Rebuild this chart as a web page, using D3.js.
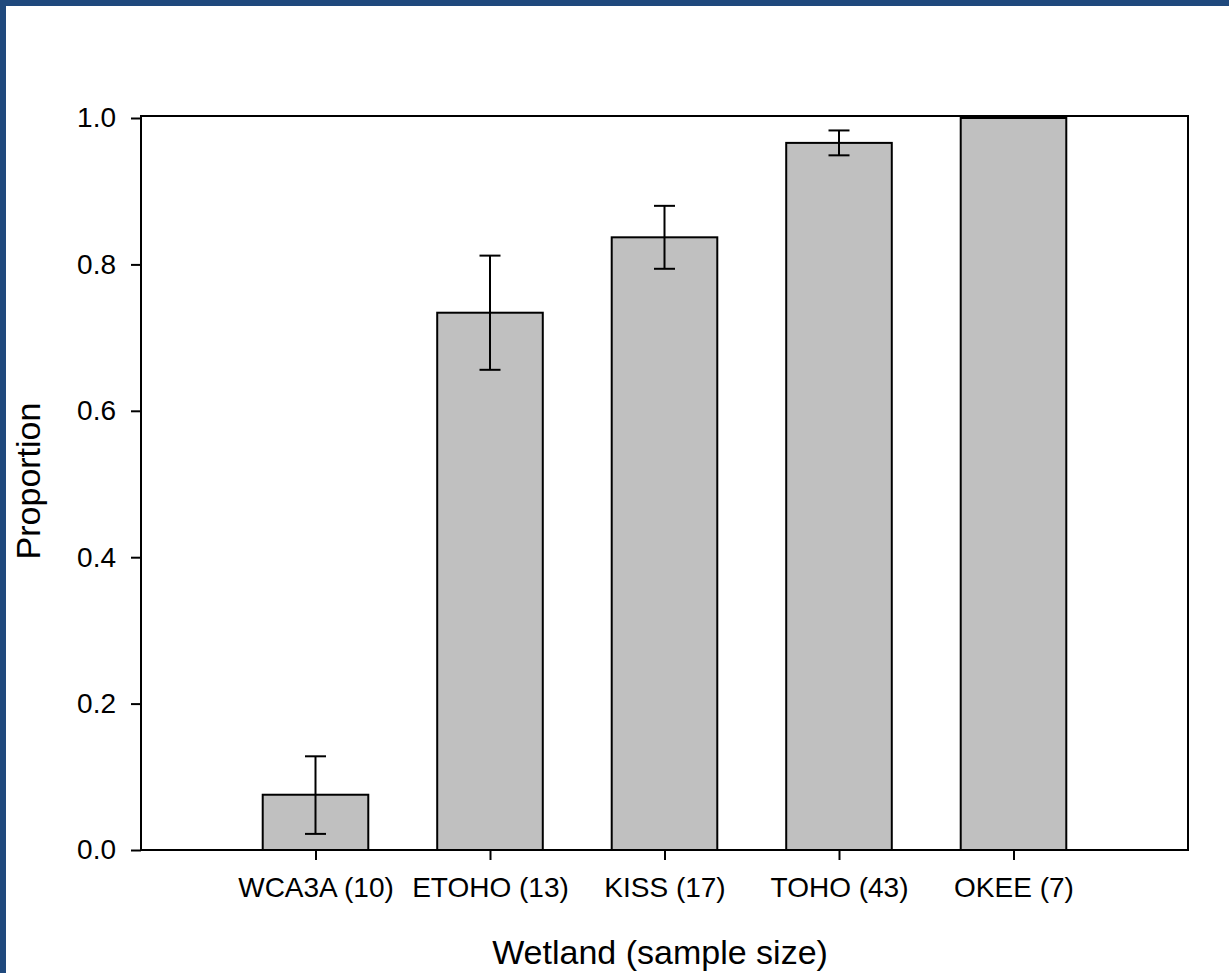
<!DOCTYPE html>
<html>
<head>
<meta charset="utf-8">
<script src="https://cdn.jsdelivr.net/npm/d3@7"></script>
<style>
  html, body { margin: 0; padding: 0; background: #fff; }
  svg { display: block; }
  text { font-family: Arial, "Liberation Sans", Helvetica, sans-serif; fill: #000; }
</style>
</head>
<body>
<svg id="chart" width="1229" height="973"></svg>
<script>
const categories = ["WCA3A (10)", "ETOHO (13)", "KISS (17)", "TOHO (43)", "OKEE (7)"];
const values     = [0.0755, 0.734, 0.837, 0.966, 1.0];
const errUpper   = [0.128, 0.812, 0.880, 0.983, 1.0];
const errLower   = [0.022, 0.656, 0.794, 0.949, 1.0];
const hasError   = [true, true, true, true, false];
const yTicks     = [0.0, 0.2, 0.4, 0.6, 0.8, 1.0];
const xTitle = "Wetland (sample size)";
const yTitle = "Proportion";

const W = 1229, H = 973;
const plot = { left: 141, right: 1188, top: 116, bottom: 850 };
const FONT = "Arial, 'Liberation Sans', Helvetica, sans-serif";

const svg = d3.select("#chart");

// blue frame (top & left edges)
svg.append("rect").attr("x", 0).attr("y", 0).attr("width", W).attr("height", 6).attr("fill", "#1F497D");
svg.append("rect").attr("x", 0).attr("y", 0).attr("width", 6).attr("height", H).attr("fill", "#1F497D");

const x = d3.scaleLinear().domain([0, categories.length + 1]).range([plot.left, plot.right]);
const y = d3.scaleLinear().domain([0, 1.0]).range([plot.bottom, 118]);
const step = x(1) - x(0);
const barW = step * 0.605;

// bars
svg.append("g").selectAll("rect").data(values).join("rect")
  .attr("x", (d, i) => x(i + 1) - barW / 2)
  .attr("y", d => y(d))
  .attr("width", barW)
  .attr("height", d => y(0) - y(d))
  .attr("fill", "#C0C0C0")
  .attr("stroke", "#000")
  .attr("stroke-width", 2);

// error bars
const eb = svg.append("g").attr("stroke", "#000").attr("stroke-width", 2);
const capW = 21;
values.forEach((v, i) => {
  if (!hasError[i]) return;
  const cx = x(i + 1);
  eb.append("line").attr("x1", cx).attr("x2", cx).attr("y1", y(errUpper[i])).attr("y2", y(errLower[i]));
  eb.append("line").attr("x1", cx - capW / 2).attr("x2", cx + capW / 2).attr("y1", y(errUpper[i])).attr("y2", y(errUpper[i]));
  eb.append("line").attr("x1", cx - capW / 2).attr("x2", cx + capW / 2).attr("y1", y(errLower[i])).attr("y2", y(errLower[i]));
});

// plot frame
svg.append("rect")
  .attr("x", plot.left).attr("y", plot.top)
  .attr("width", plot.right - plot.left).attr("height", plot.bottom - plot.top)
  .attr("fill", "none").attr("stroke", "#000").attr("stroke-width", 2);

// y axis
const yAxis = d3.axisLeft(y).tickValues(yTicks).tickFormat(d3.format(".1f")).tickSize(10).tickPadding(15);
const gy = svg.append("g").attr("transform", `translate(${plot.left},0)`).call(yAxis);
gy.select(".domain").remove();
gy.selectAll(".tick line").attr("stroke", "#000").attr("stroke-width", 2);
gy.selectAll(".tick text").attr("font-size", 28).attr("font-family", FONT).attr("fill", "#000");

// x axis
const xAxis = d3.axisBottom(x).tickValues(categories.map((c, i) => i + 1))
  .tickFormat((d) => categories[d - 1]).tickSize(10).tickPadding(17);
const gx = svg.append("g").attr("transform", `translate(0,${plot.bottom})`).call(xAxis);
gx.select(".domain").remove();
gx.selectAll(".tick line").attr("stroke", "#000").attr("stroke-width", 2);
gx.selectAll(".tick text").attr("font-size", 28).attr("font-family", FONT).attr("fill", "#000");

// titles
svg.append("text").attr("x", 660).attr("y", 964)
  .attr("text-anchor", "middle").attr("font-size", 34).attr("font-family", FONT).text(xTitle);
svg.append("text").attr("transform", `translate(40,481) rotate(-90)`)
  .attr("text-anchor", "middle").attr("font-size", 34).attr("font-family", FONT).text(yTitle);
</script>
</body>
</html>
